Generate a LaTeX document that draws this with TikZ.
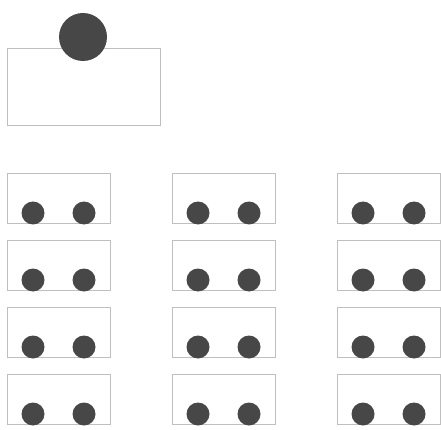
\documentclass[tikz,border=0pt]{standalone}
\begin{document}
\begin{tikzpicture}[x=1pt,y=-1pt]
    \tikzset{desk/.style={draw=gray!50, line width=0.7pt},
             pupil/.style={fill=black!72}}
    \useasboundingbox (0,0) rectangle (441,430);
    % teacher's desk
    \draw[desk] (7,48) rectangle (160,125);
    \fill[pupil] (83,37) circle (24pt);
    % pupils' desks, 3 columns x 4 rows
    \foreach \cx in {7,172,337} {
      \foreach \ty in {173,240,307,374} {
        \draw[desk] (\cx,\ty) rectangle ++(103,50);
        \fill[pupil] (\cx+26,\ty+40) circle (11.5pt);
        \fill[pupil] (\cx+77,\ty+40) circle (11.5pt);
      }
    }
\end{tikzpicture}
\end{document}
